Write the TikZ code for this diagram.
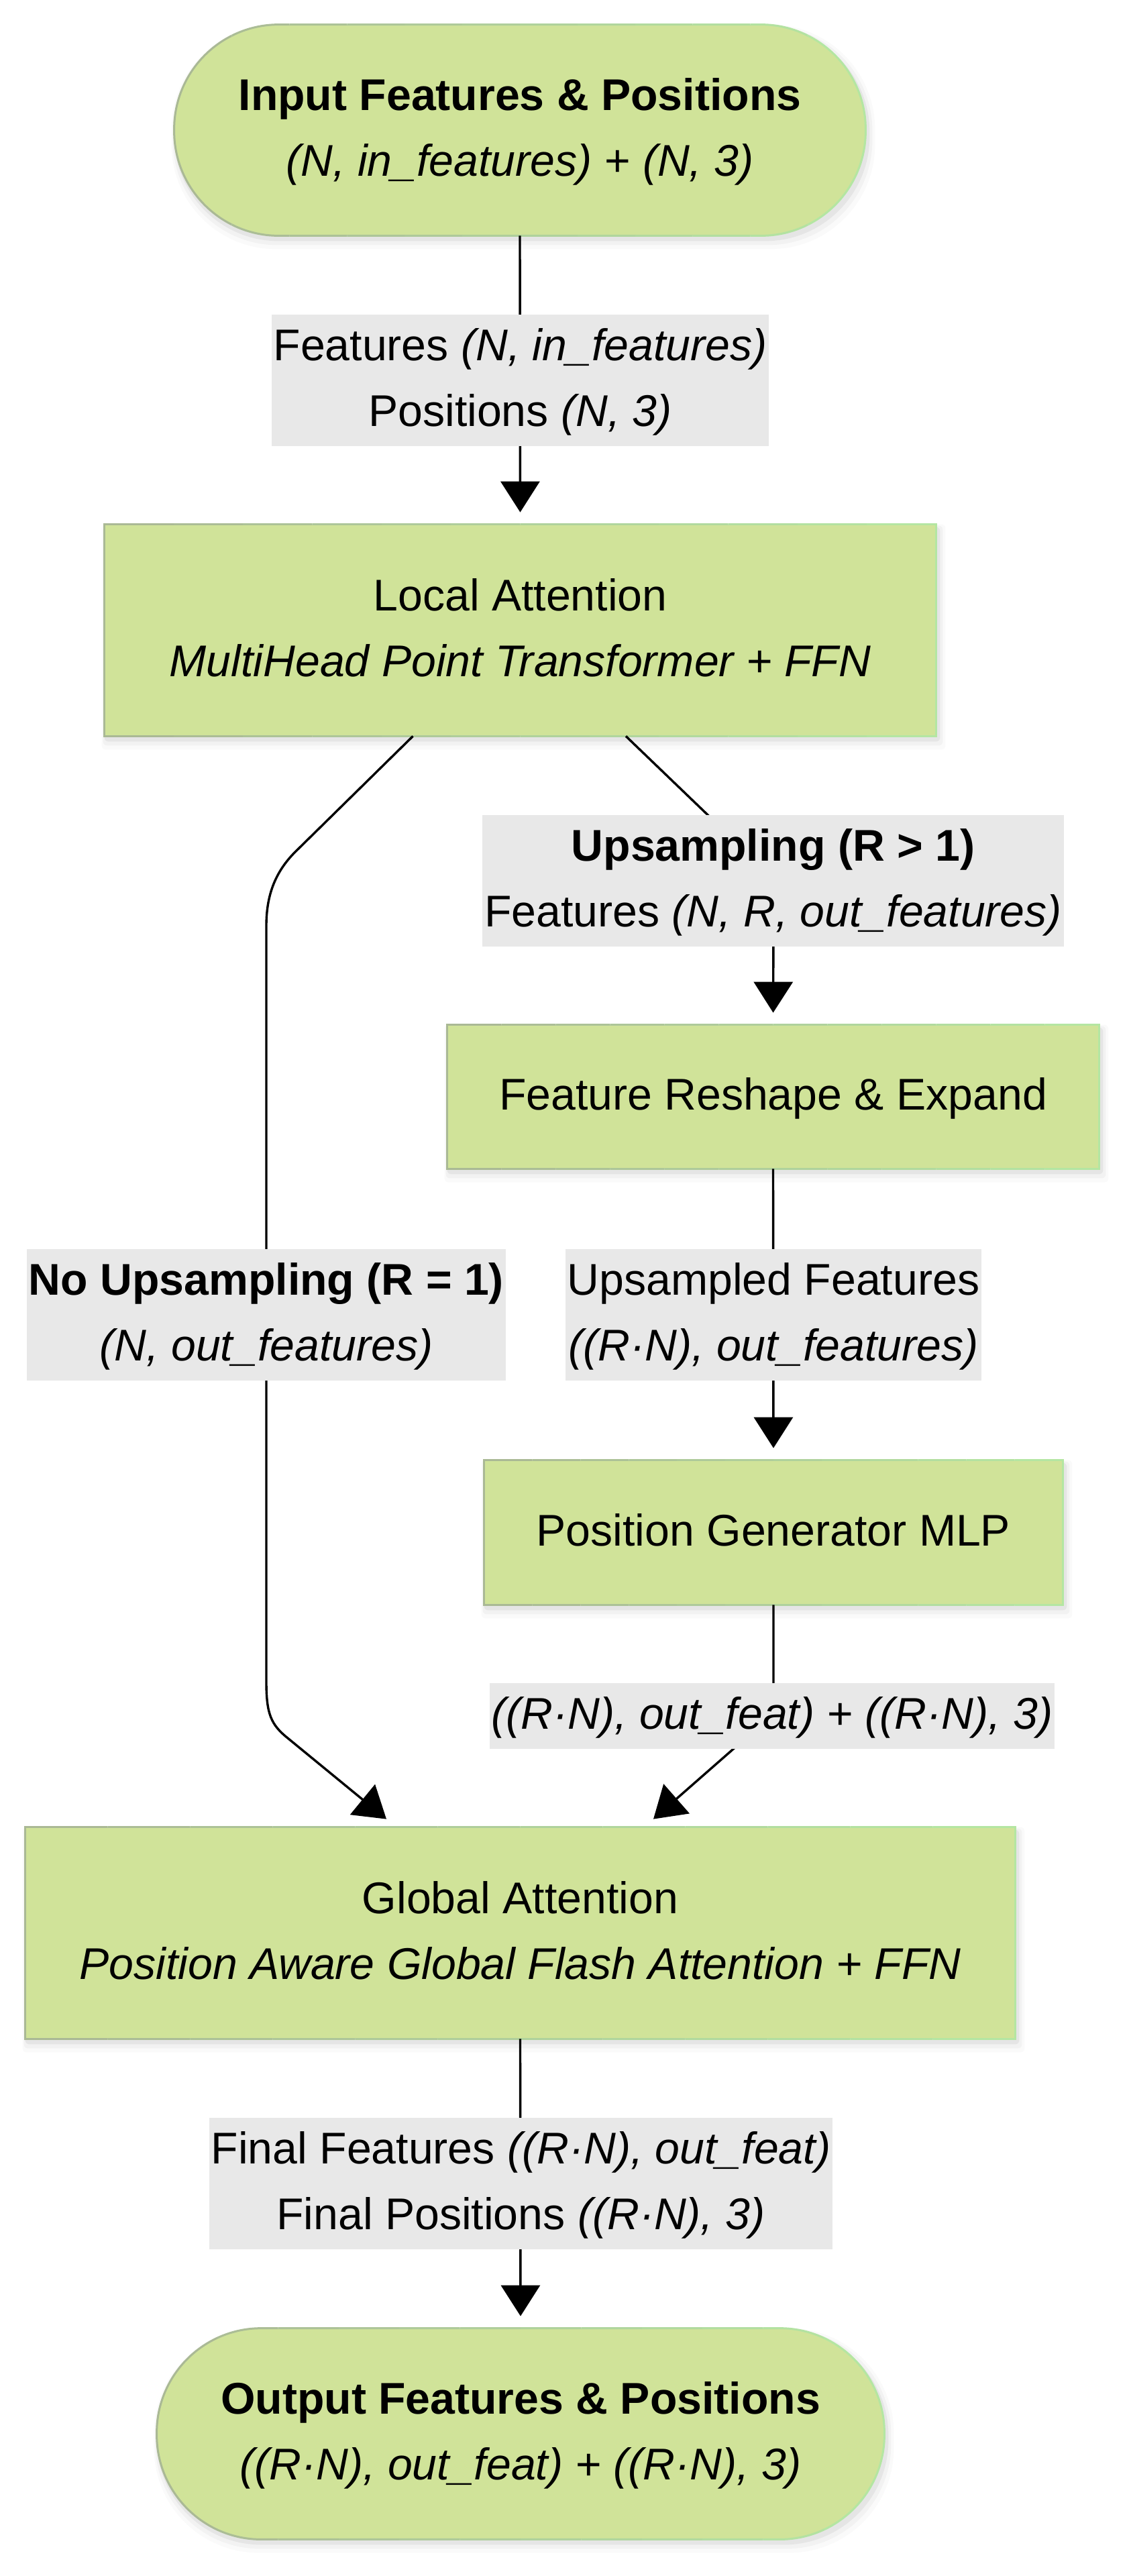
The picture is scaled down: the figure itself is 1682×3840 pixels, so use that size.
\documentclass[tikz,border=0pt]{standalone}
\usepackage{fontspec}
\setmainfont{Liberation Sans}
\usetikzlibrary{arrows.meta,calc,backgrounds}
\definecolor{boxfill}{HTML}{D0E399}
\definecolor{lblgray}{HTML}{E8E8E8}
\definecolor{bordL}{HTML}{AAB995}
\definecolor{bordR}{HTML}{B4E6A2}
\newcommand\gradborder[2]{%
  \foreach \k in {0,...,11}{%
    \pgfmathsetmacro\fa{\k==0 ? -0.1 : \k/12}%
    \pgfmathsetmacro\fb{\k==11 ? 1.1 : (\k+1)/12}%
    \pgfmathtruncatemacro\mixv{100-\k*100/11}%
    \begin{scope}
      \clip ($(#1.south west)!\fa!(#1.south east)+(0pt,-10pt)$) rectangle ($(#1.north west)!\fb!(#1.north east)+(0pt,10pt)$);
      \draw[line width=1.5pt, draw=bordL!\mixv!bordR, #2] (#1.south west) rectangle (#1.north east);
    \end{scope}
  }%
}
\newcommand\softshadow[2]{%
  \begin{scope}[on background layer]
    \fill[black, opacity=0.05, #2] ([shift={(0pt,-4pt)}]#1.south west) rectangle ([shift={(3pt,-2pt)}]#1.north east);
    \fill[black, opacity=0.03, #2] ([shift={(-1pt,-7pt)}]#1.south west) rectangle ([shift={(5pt,-1pt)}]#1.north east);
    \fill[black, opacity=0.02, #2] ([shift={(-2pt,-10pt)}]#1.south west) rectangle ([shift={(7pt,0pt)}]#1.north east);
  \end{scope}
}
\begin{document}
\begin{tikzpicture}[x=0.5pt, y=-0.5pt,
  font=\fontsize{33.1}{49}\selectfont,
  box/.style={fill=boxfill, inner sep=0pt, align=center},
  lbl/.style={fill=lblgray, inner xsep=1.5pt, inner ysep=0pt, align=center},
  conn/.style={line width=1.7pt, draw=black},
  arr/.style={conn, -{Triangle[length=23pt,width=29pt]}},
  gap/.style={shorten >=9pt}]
\useasboundingbox (0,0) rectangle (1682,3840);
\begin{scope}[on background layer]
  \fill[white] (0,0) rectangle (1682,3840);
\end{scope}

% main nodes
\node[box, minimum width=515pt, minimum height=157pt, rounded corners=78pt] (inp) at (775,194)
  {\strut\textbf{Input Features \& Positions}\\\strut\textit{(N, in\_features)} + \textit{(N, 3)}};
\node[box, minimum width=619.5pt, minimum height=157.5pt] (loc) at (775.5,939.5)
  {\strut Local Attention\\\strut\textit{MultiHead Point Transformer + FFN}};
\node[box, minimum width=485.5pt, minimum height=107pt] (rsh) at (1152.5,1635)
  {\strut Feature Reshape \& Expand};
\node[box, minimum width=431pt, minimum height=107.5pt] (pg) at (1153,2284.5)
  {\strut Position Generator MLP};
\node[box, minimum width=737.5pt, minimum height=157.5pt] (ga) at (775.5,2881.5)
  {\strut Global Attention\\\strut\textit{Position Aware Global Flash Attention + FFN}};
\node[box, minimum width=542pt, minimum height=157pt, rounded corners=78pt] (out) at (776,3628)
  {\strut\textbf{Output Features \& Positions}\\\strut\textit{((R·N), out\_feat) + ((R·N), 3)}};

\softshadow{inp}{rounded corners=78pt}
\softshadow{loc}{rounded corners=3pt}
\softshadow{rsh}{rounded corners=3pt}
\softshadow{pg}{rounded corners=3pt}
\softshadow{ga}{rounded corners=3pt}
\softshadow{out}{rounded corners=78pt}

\gradborder{inp}{rounded corners=78pt}
\gradborder{loc}{}
\gradborder{rsh}{}
\gradborder{pg}{}
\gradborder{ga}{}
\gradborder{out}{rounded corners=78pt}

% connectors
\coordinate (r1) at (1100,1258);
\coordinate (r2) at (1153,1380);
\coordinate (p1) at (1153,2530);
\coordinate (p2) at (1115,2588);
\coordinate (q1) at (440,1270);
\coordinate (q2) at (397,1380);
\coordinate (q3) at (397,2507);
\coordinate (q4) at (429,2591);
\coordinate (gaL) at ([xshift=-99.75pt,yshift=6pt]ga.north);
\coordinate (gaR) at ([xshift=99.25pt,yshift=6pt]ga.north);

\draw[arr,gap] (inp.south) -- (loc.north);
\draw[arr,gap] ([xshift=78.75pt]loc.south) -- (r1) .. controls (1153,1309) and (1153,1330) .. (r2) -- (rsh.north);
\draw[arr,gap] (rsh.south) -- (pg.north);
\draw[arr] (pg.south) -- (p1) .. controls (1153,2560) and (1140,2565) .. (p2) -- (gaR);
\draw[arr] ([xshift=-80pt]loc.south) -- (q1) .. controls (410,1300) and (397,1335) .. (q2) -- (q3) .. controls (397,2555) and (404,2571) .. (q4) -- (gaL);
\draw[arr,gap] (ga.south) -- (out.north);

% edge labels
\node[lbl] (l1) at (775.5,567) {\strut Features \textit{(N, in\_features)}\\\strut Positions \textit{(N, 3)}};
\node[lbl] (l2) at (1152.5,1313) {\strut\textbf{Upsampling (R > 1)}\\\strut Features \textit{(N, R, out\_features)}};
\node[lbl] (l3) at (1153,1960) {\strut Upsampled Features\\\strut\textit{((R·N), out\_features)}};
\node[lbl] (l4) at (397,1960) {\strut\textbf{No Upsampling (R = 1)}\\\strut\textit{(N, out\_features)}};
\node[lbl] (l5) at (1151,2558) {\strut\textit{((R·N), out\_feat) + ((R·N), 3)}};
\node[lbl] (l6) at (776.5,3255) {\strut Final Features \textit{((R·N), out\_feat)}\\\strut Final Positions \textit{((R·N), 3)}};
\end{tikzpicture}
\end{document}
